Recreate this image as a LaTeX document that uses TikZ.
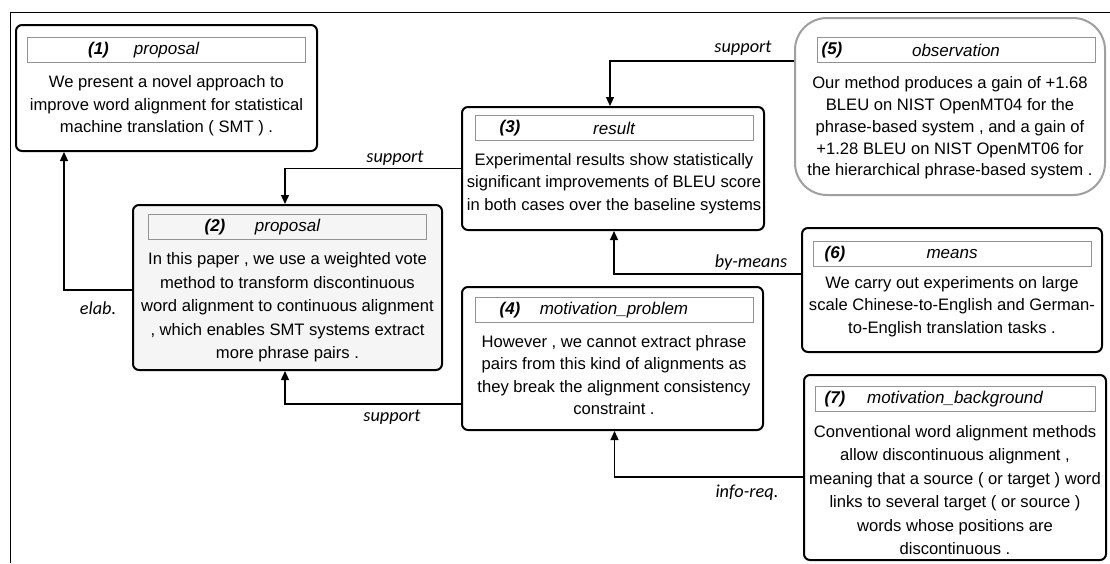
\documentclass[tikz,border=0pt]{standalone}
\usepackage{fontspec}
\setmainfont{Liberation Sans}
\newfontfamily\relfont{Carlito}
\usetikzlibrary{arrows.meta,positioning}
\tikzset{%
  unit/.style={draw, line width=2pt, rounded corners=6pt, inner sep=0pt},
  head/.style={draw=gray!85, line width=0.9pt, minimum width=278pt, minimum height=25pt, inner sep=0pt,
    font=\fontsize{17}{19}\selectfont\itshape},
  body/.style={align=center, inner sep=0pt, font=\fontsize{16.6}{22.5}\selectfont},
  tag/.style={inner sep=0pt, font=\fontsize{17}{19}\selectfont\bfseries\itshape},
  rel/.style={inner sep=0pt, font=\fontsize{18.3}{20}\relfont\itshape},
  link/.style={line width=1.3pt, -{Triangle[length=9pt,width=8pt]}}
}
\begin{document}
\begin{tikzpicture}[x=1pt, y=-1pt]
  \fill[white] (0,0) rectangle (1110,563);
  \useasboundingbox (0,0) rectangle (1110,563);
  \draw[line width=1pt] (10,563) -- (10,12) -- (1110,12);

  % units
  \node[unit, minimum width=301pt, minimum height=126pt] (b1) at (166.5,88) {};
  \node[unit, fill=gray!8, minimum width=309pt, minimum height=165pt] (b2) at (287.5,287.5) {};
  \node[unit, minimum width=302pt, minimum height=123pt] (b3) at (613,168.5) {};
  \node[unit, minimum width=301pt, minimum height=143pt] (b4) at (612.5,358.5) {};
  \node[unit, draw=gray!75, rounded corners=32pt, minimum width=310pt, minimum height=177pt] (b5) at (950,106.5) {};
  \node[unit, minimum width=300pt, minimum height=124pt] (b6) at (952,290) {};
  \node[unit, minimum width=302pt, minimum height=185pt] (b7) at (955,467.5) {};

  % headers
  \node[head, below=13pt of b1.north] (h1) {proposal};
  \node[tag] (g1) at ([xshift=-68pt]h1.center) {(1)};
  \node[head, below=10pt of b2.north] (h2) {proposal};
  \node[tag] (g2) at ([xshift=-72.5pt]h2.center) {(2)};
  \node[head, below=9pt of b3.north, xshift=1pt] (h3) {result};
  \node[tag] (g3) at ([xshift=-104pt]h3.center) {(3)};
  \node[head, below=11pt of b4.north, xshift=1.5pt] (h4) {motivation\_problem};
  \node[tag] (g4) at ([xshift=-104pt]h4.center) {(4)};
  \node[head, below=20pt of b5.north, xshift=6pt] (h5) {observation};
  \node[tag] (g5) at ([xshift=-124pt]h5.center) {(5)};
  \node[head, below=14pt of b6.north] (h6) {means};
  \node[tag] (g6) at ([xshift=-117pt]h6.center) {(6)};
  \node[head, below=12pt of b7.north, minimum width=280pt] (h7) {motivation\_background};
  \node[tag] (g7) at ([xshift=-120pt]h7.center) {(7)};

  % texts
  \node[body, below=12.7pt of h1] (t1) {We present a novel approach to\\
    improve word alignment for statistical\\ machine translation ( SMT ) .};
  \node[body, below=12.5pt of h2, font=\fontsize{16.6}{23.5}\selectfont] (t2) {In this paper , we use a weighted vote\\
    method to transform discontinuous\\ word alignment to continuous alignment\\
    , which enables SMT systems extract\\ more phrase pairs .};
  \node[body, below=12pt of h3] (t3) {Experimental results show statistically\\
    significant improvements of BLEU score\\ in both cases over the baseline systems};
  \node[body, below=12pt of h4] (t4) {However , we cannot extract phrase\\
    pairs from this kind of alignments as\\ they break the alignment consistency\\ constraint .};
  \node[body, below=13.8pt of h5, xshift=-6pt, font=\fontsize{16.6}{21.75}\selectfont] (t5) {Our method produces a gain of +1.68\\
    BLEU on NIST OpenMT04 for the\\ phrase-based system , and a gain of\\
    +1.28 BLEU on NIST OpenMT06 for\\ the hierarchical phrase-based system .};
  \node[body, below=9pt of h6] (t6) {We carry out experiments on large\\
    scale Chinese-to-English and German-\\ to-English translation tasks .};
  \node[body, below=13pt of h7, font=\fontsize{16.6}{23.5}\selectfont] (t7) {Conventional word alignment methods\\
    allow discontinuous alignment ,\\ meaning that a source ( or target ) word\\
    links to several target ( or source )\\ words whose positions are\\ discontinuous .};

  % relations
  \draw[link] ([yshift=-2.5pt]b2.west) -| ([xshift=-102.5pt]b1.south);
  \draw[link] (b3.west) -| ([xshift=-2.5pt]b2.north);
  \draw[link] ([yshift=45.5pt]b5.west) -| ([xshift=-3pt]b3.north);
  \draw[link] ([yshift=16pt]b6.west) -| ([xshift=1pt]b3.south);
  \draw[link] ([yshift=-45.5pt]b4.west) -| ([xshift=-2.5pt]b2.south);
  \draw[link] ([yshift=-9.5pt]b7.west) -| ([xshift=2pt]b4.south);

  \node[rel] (r1) at (98,308) {elab.};
  \node[rel] (r2) at (395,158) {support};
  \node[rel] (r3) at (743,48) {support};
  \node[rel] (r4) at (751,263) {by-means};
  \node[rel] (r5) at (392,417) {support};
  \node[rel] (r6) at (747,493) {info-req.};
\end{tikzpicture}
\end{document}
